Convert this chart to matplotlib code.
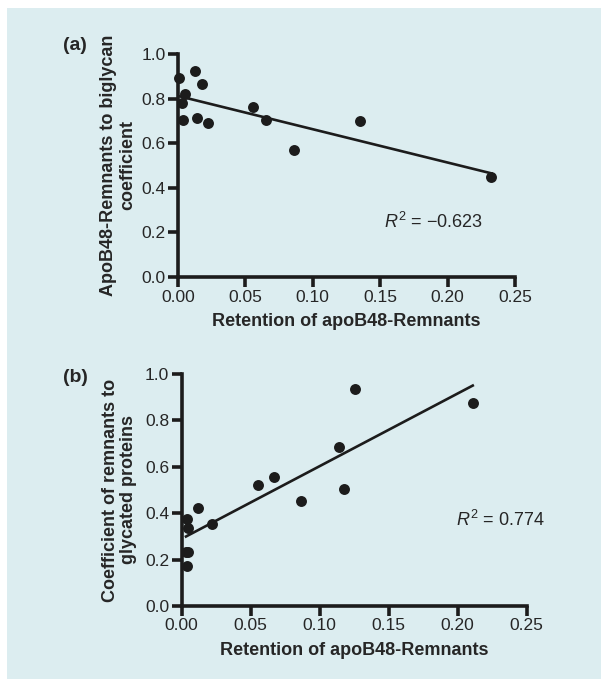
import numpy as np
import matplotlib
matplotlib.use("Agg")
import matplotlib.pyplot as plt
from matplotlib.patches import Rectangle

plt.rcParams['font.family'] = ['Liberation Sans', 'DejaVu Sans']
plt.rcParams['mathtext.fontset'] = 'custom'
plt.rcParams['mathtext.it'] = 'Liberation Sans:italic'
plt.rcParams['mathtext.rm'] = 'Liberation Sans'

# Panel (a): retention vs. apoB48-remnant/biglycan coefficient
ret_a = [0.001, 0.0124, 0.0178, 0.0054, 0.0032, 0.0035, 0.0139, 0.0225,
         0.056, 0.0654, 0.086, 0.1352, 0.2324]
coef_a = [0.892, 0.924, 0.864, 0.822, 0.782, 0.703, 0.712, 0.692,
          0.762, 0.703, 0.571, 0.701, 0.450]
r2_a = "\u22120.623"

# Panel (b): retention vs. remnant/glycated-protein coefficient
ret_b = [0.0041, 0.0049, 0.0031, 0.0048, 0.0036, 0.0118, 0.0217, 0.0553,
         0.0669, 0.0862, 0.1138, 0.1178, 0.1254, 0.2109]
coef_b = [0.375, 0.335, 0.234, 0.234, 0.174, 0.424, 0.353, 0.523,
          0.555, 0.454, 0.684, 0.504, 0.934, 0.874]
r2_b = "0.774"

x_ticks = [0.00, 0.05, 0.10, 0.15, 0.20, 0.25]
y_ticks = [0.0, 0.2, 0.4, 0.6, 0.8, 1.0]
x_label = "Retention of apoB48-Remnants"

W, H = 601, 679
fig = plt.figure(figsize=(W / 100, H / 100), dpi=100)
fig.patch.set_facecolor("white")
bg = "#dcedf0"
fig.add_artist(Rectangle((7 / W, 0), 1 - 7 / W, 1 - 8 / H, transform=fig.transFigure,
                         facecolor=bg, edgecolor="none", zorder=0))

ink = "#1c1c1c"
txt = "#262626"


def panel(rect, xs, ys, ylabel, ylab_x, tag, tag_y, r2, r2_pos):
    ax = fig.add_axes(rect)
    ax.set_facecolor("none")
    ax.set_xlim(0, 0.25)
    ax.set_ylim(0, 1.0)
    for s in ("top", "right"):
        ax.spines[s].set_visible(False)
    for s in ("left", "bottom"):
        ax.spines[s].set_linewidth(2.6)
        ax.spines[s].set_color(ink)
        ax.spines[s].set_capstyle("projecting")
    ax.set_xticks(x_ticks)
    ax.set_xticklabels([f"{v:.2f}" for v in x_ticks])
    ax.set_yticks(y_ticks)
    ax.set_yticklabels([f"{v:.1f}" for v in y_ticks])
    ax.tick_params(direction="out", length=7, width=2.6, color=ink,
                   labelsize=12.5, labelcolor=txt, pad=2)
    ax.scatter(xs, ys, s=62, color=ink, zorder=3, clip_on=False, linewidths=0)
    k, b = np.polyfit(xs, ys, 1)
    xl = np.array([min(xs), max(xs)])
    ax.plot(xl, k * xl + b, color=ink, lw=1.9, zorder=2, clip_on=False)
    ax.set_xlabel(x_label, fontsize=13, fontweight="bold", color=txt, labelpad=6)
    yc = rect[1] + rect[3] / 2
    fig.text(ylab_x / W, yc, ylabel, rotation=90, ha="center", va="center",
             fontsize=13, fontweight="bold", color=txt, linespacing=1.12)
    fig.text(63 / W, 1 - tag_y / H, tag, ha="left", va="center", fontsize=14,
             fontweight="bold", color=txt)
    ax.text(r2_pos[0], r2_pos[1], r"$R^2$" + " = " + r2, fontsize=13, color=txt,
            ha="left", va="center")
    return ax


panel([178 / W, 1 - 277 / H, 337 / W, 223 / H], ret_a, coef_a,
      "ApoB48-Remnants to biglycan\ncoefficient", 118, "(a)", 45,
      r2_a, (0.153, 0.245))
panel([181.7 / W, 1 - 606 / H, 345 / W, 232 / H], ret_b, coef_b,
      "Coefficient of remnants to\nglycated proteins", 119.5, "(b)", 378,
      r2_b, (0.199, 0.37))

fig.savefig("out.png", dpi=100, facecolor=fig.get_facecolor())
